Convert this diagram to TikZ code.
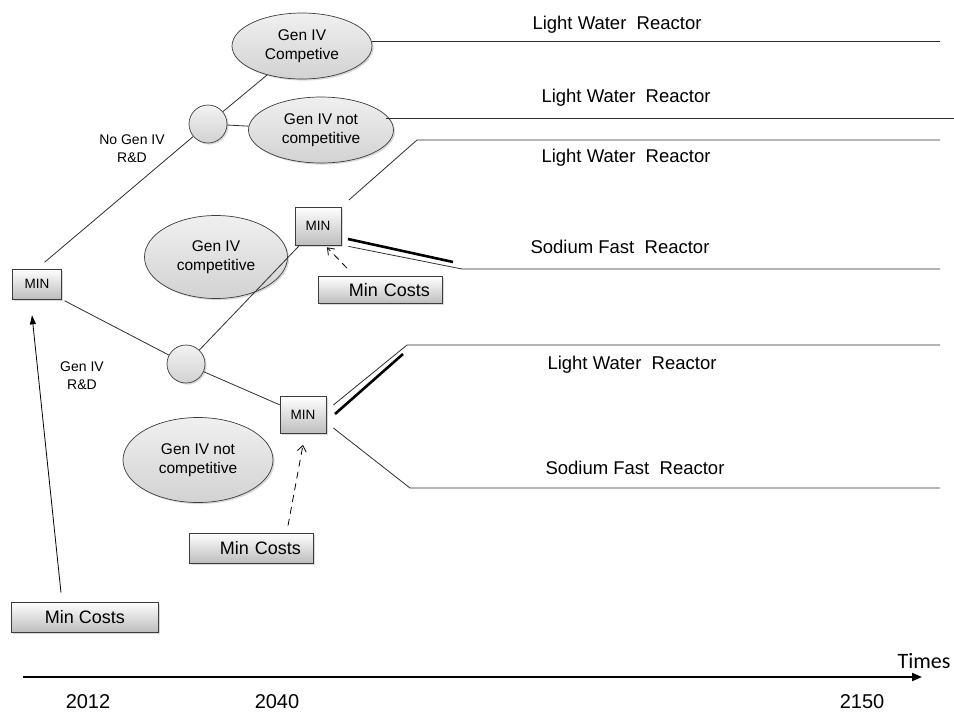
\documentclass[tikz,border=0pt]{standalone}
\usepackage{fontspec}
\setmainfont{Liberation Sans}
\newfontfamily\timesfont{Carlito}
\usetikzlibrary{arrows.meta,shapes.geometric,shadows}
\definecolor{boxgray}{HTML}{BDBDBD}
\definecolor{nodegray}{HTML}{D2D2D2}
\definecolor{edgegray}{HTML}{3C3C3C}
\definecolor{linegray}{HTML}{2E2E2E}
\tikzset{
  softshadow/.style={drop shadow={opacity=0.3, shadow xshift=1.6pt, shadow yshift=-1.6pt}},
  decision/.style={rectangle, draw=edgegray, line width=0.7pt, top color=white, bottom color=boxgray, softshadow, inner sep=0pt, font=\fontsize{13.5}{16}\selectfont},
  costbox/.style={decision, font=\fontsize{18}{21}\selectfont},
  costright/.style={costbox, text width=100pt, align=right},
  chance/.style={circle, draw=edgegray, line width=0.7pt, top color=gray!10, bottom color=nodegray, softshadow, minimum size=38pt, inner sep=0pt},
  outcome/.style={ellipse, draw=edgegray, line width=0.7pt, top color=gray!12, bottom color=nodegray, softshadow, inner sep=0pt, align=center, font=\fontsize{15.5}{19.5}\selectfont},
  branchlabel/.style={align=center, font=\fontsize{14}{18}\selectfont},
  reactor/.style={font=\fontsize{18.5}{22}\selectfont},
  year/.style={font=\fontsize{20}{24}\selectfont},
  branch/.style={draw=linegray, line width=0.8pt},
  best/.style={draw=black, line width=2.6pt},
  cost arrow/.style={-{Straight Barb[length=6pt,width=9pt]}, draw=black, line width=0.8pt, dash pattern=on 7pt off 5pt},
  input arrow/.style={-{Triangle[length=9pt,width=6pt]}, draw=black, line width=0.8pt},
  timeline/.style={-{Triangle[length=10pt,width=8pt]}, draw=black, line width=2pt}
}
\begin{document}
\begin{tikzpicture}[x=1pt, y=-1pt]
  \useasboundingbox (0,0) rectangle (954,713);

  % decision and chance nodes
  \node[decision, minimum width=49pt, minimum height=30pt] (minA) at (37,284) {MIN};
  \node[chance] (chanceA) at (208,124) {};
  \node[outcome, minimum width=140pt, minimum height=66pt] (compA) at (302,46) {Gen IV\\Competive};
  \node[outcome, minimum width=145pt, minimum height=66pt] (notcompA) at (321,130) {Gen IV not\\competitive};
  \node[chance] (chanceB) at (186,364) {};
  \node[outcome, minimum width=143pt, minimum height=83pt] (compB) at (216,257) {Gen IV\\competitive};
  \node[outcome, minimum width=150pt, minimum height=85pt] (notcompB) at (198,460) {Gen IV not\\competitive};
  \node[decision, minimum width=46pt, minimum height=38pt] (minB) at (318,226) {MIN};
  \node[decision, minimum width=46pt, minimum height=37pt] (minC) at (303,415) {MIN};
  \node[costbox, minimum width=147pt, minimum height=30pt] (costA) at (85,617) {Min Costs};
  \node[costright, minimum width=124pt, minimum height=27pt] (costB) at (380,290) {Min Costs};
  \node[costright, minimum width=124pt, minimum height=30pt] (costC) at (251,548) {Min Costs};

  \node[branchlabel] (noRD) at (132,149) {No Gen IV\\R\&D};
  \node[branchlabel] (withRD) at (82,376) {Gen IV\\R\&D};

  % end points of the reactor paths
  \coordinate (lwrA) at (940,41);
  \coordinate (lwrB) at (954,118);
  \coordinate (kinkC) at (417,140);
  \coordinate (lwrC) at (940,140);
  \coordinate (kinkD) at (462,269);
  \coordinate (sfrD) at (940,269);
  \coordinate (kinkE) at (407,345);
  \coordinate (lwrE) at (940,345);
  \coordinate (kinkF) at (410,488);
  \coordinate (sfrF) at (940,488);
  \coordinate (bestD1) at (348,239);
  \coordinate (bestD2) at (453,262);
  \coordinate (bestE1) at (335,414);
  \coordinate (bestE2) at (403,354);

  \node[reactor] (lwrAlabel) at (617,25) {Light Water\ \ Reactor};
  \node[reactor] (lwrBlabel) at (626,98) {Light Water\ \ Reactor};
  \node[reactor] (lwrClabel) at (626,158) {Light Water\ \ Reactor};
  \node[reactor] (sfrDlabel) at (620,247) {Sodium Fast\ \ Reactor};
  \node[reactor] (lwrElabel) at (632,365) {Light Water\ \ Reactor};
  \node[reactor] (sfrFlabel) at (635,468) {Sodium Fast\ \ Reactor};

  % tree branches
  \draw[branch, shorten <=10pt] (minA.north) -- (chanceA);
  \draw[branch, shorten <=3pt] (minA.south east) -- (chanceB);
  \draw[branch] (chanceA) -- (compA);
  \draw[branch] (chanceA) -- (notcompA);
  \draw[branch] (chanceB) -- (minB);
  \draw[branch] (chanceB) -- (minC);
  \draw[branch] (compA.east |- lwrA) -- (lwrA);
  \draw[branch] ([xshift=-8pt]notcompA.east |- lwrB) -- (lwrB);
  \draw[branch, shorten <=10pt] (minB.north east) -- (kinkC) -- (lwrC);
  \draw[branch] ([shift={(7,1)}]minB.south east) -- (kinkD) -- (sfrD);
  \draw[branch] ([shift={(7,-10)}]minC.east) -- (kinkE) -- (lwrE);
  \draw[branch] ([shift={(7,13)}]minC.east) -- (kinkF) -- (sfrF);
  \draw[best] (bestD1) -- (bestD2);
  \draw[best] (bestE1) -- (bestE2);

  % cost inputs
  \draw[input arrow] ([shift={(-24,-9)}]costA.north) -- ([shift={(-5,16)}]minA.south);
  \draw[cost arrow] ([shift={(-33,-8)}]costB.north) -- ([shift={(9,2)}]minB.south);
  \draw[cost arrow] ([shift={(37,-7)}]costC.north) -- ([shift={(0,11)}]minC.south);

  % time axis
  \coordinate (axisStart) at (23,677);
  \coordinate (axisEnd) at (922,677);
  \draw[timeline] (axisStart) -- (axisEnd);
  \node[font=\timesfont\fontsize{22}{26}\selectfont] (timesLabel) at (924,661) {Times};
  \node[year] (yearA) at (88,702) {2012};
  \node[year] (yearB) at (277,702) {2040};
  \node[year] (yearC) at (862,702) {2150};
\end{tikzpicture}
\end{document}
